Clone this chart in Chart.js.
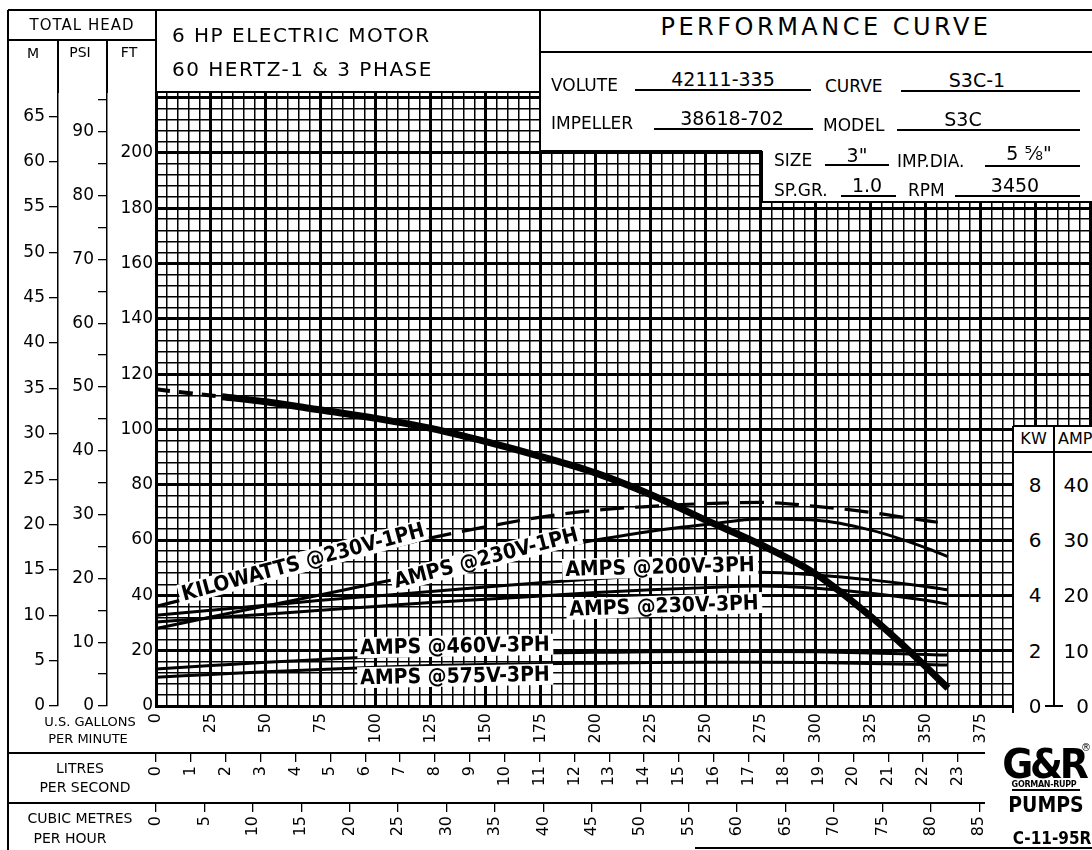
<!DOCTYPE html>
<html><head><meta charset="utf-8">
<script src="https://cdn.jsdelivr.net/npm/chart.js@4.4.1/dist/chart.umd.min.js"></script>
<style>
html,body{margin:0;padding:0;background:#fff;}
#wrap{position:relative;width:1092px;height:850px;overflow:hidden;background:#fff;font-family:"DejaVu Sans",sans-serif;color:#000;}
#c{position:absolute;left:0;top:0;}
.t{position:absolute;white-space:nowrap;line-height:1;}
.ln{position:absolute;background:#000;}
.box{position:absolute;background:#fff;}
.lbl{position:absolute;white-space:nowrap;font-family:"DejaVu Sans Condensed","DejaVu Sans",sans-serif;font-weight:bold;font-size:21px;line-height:21px;background:#fff;padding:0 3px;}
</style></head><body><div id="wrap"><canvas id="c" width="1092" height="850"></canvas></div>
<script>
// ---------------- data ----------------
const gpm       = [0, 25, 50, 75, 100, 125, 150, 175, 200, 225, 250, 275, 300, 325, 350, 360];
const headGpm   = [0, 30, 50, 75, 100, 125, 150, 175, 200, 225, 250, 275, 300, 325, 350, 360];
const headFt    = [114.5, 111.8, 110, 107, 104, 100.4, 95.6, 90.2, 84.2, 76.4, 67.2, 58.3, 47.7, 32.3, 14.2, 6.4];
const kw230_1   = [3.6, 4.1, 4.6, 5.1, 5.62, 6.08, 6.48, 6.83, 7.08, 7.22, 7.32, 7.36, 7.22, 7.0, 6.7, 6.6];
const amps230_1 = [14, 16.1, 18.1, 20.1, 22.2, 24.2, 26.2, 28.2, 30, 31.6, 32.8, 33.8, 33.6, 31.8, 28.6, 27];
const amps200_3 = [16.4, 17.3, 18.2, 19.1, 19.9, 20.7, 21.5, 22.3, 23, 23.6, 24, 24.2, 23.7, 22.8, 21.6, 21];
const amps230_3 = [15.2, 15.9, 16.6, 17.3, 18, 18.7, 19.3, 19.9, 20.5, 21, 21.4, 21.7, 21.3, 20.4, 19.1, 18.4];
const amps460_3 = [6.7, 7.3, 7.9, 8.4, 8.9, 9.2, 9.4, 9.6, 9.7, 9.8, 9.85, 9.85, 9.8, 9.6, 9.3, 9.2];
const amps575_3 = [5.2, 5.7, 6.2, 6.6, 7.0, 7.3, 7.5, 7.65, 7.75, 7.85, 7.9, 7.9, 7.85, 7.7, 7.5, 7.4];

const kwTicks   = [8, 6, 4, 2, 0];
const ampTicks  = [40, 30, 20, 10, 0];

// curve captions (text, anchor GPM, anchor value, scale, angle)
const capText  = ["KILOWATTS @230V-1PH", "AMPS @230V-1PH", "AMPS @200V-3PH", "AMPS @230V-3PH", "AMPS @460V-3PH", "AMPS @575V-3PH"];
const capGpm   = [67, 150, 229, 231, 136, 136];
const capValue = [5.2, 26.7, 25.2, 18.0, 10.8, 5.45];
const capScale = ["yK", "yA", "yA", "yA", "yA", "yA"];
const capAngle = [-15, -14.5, -1.5, -2, -1, -1];

// unit conversions
const GPM_MAX = 425.5, FT_MAX = 222;
const FT_PER_M = 3.2808, FT_PER_PSI = 2.3067, LPS_PER_GPM = 0.0630902, M3H_PER_GPM = 0.2271247;
const KW_PER_FT = 0.1, A_PER_FT = 0.5;

// ---------------- helpers for static frame ----------------
const W = document.getElementById('wrap');
function el(cls, css, text){const d=document.createElement('div');d.className=cls;Object.assign(d.style,css);if(text!=null)d.textContent=text;W.appendChild(d);return d;}
function box(x,y,w,h){el('box',{left:x+'px',top:y+'px',width:w+'px',height:h+'px'});}
function hl(x1,x2,y,w){w=w||1.5;el('ln',{left:x1+'px',top:(y-w/2)+'px',width:(x2-x1)+'px',height:w+'px'});}
function vl(x,y1,y2,w){w=w||1.5;el('ln',{left:(x-w/2)+'px',top:y1+'px',width:w+'px',height:(y2-y1)+'px'});}
function tc(s,x,y,size,extra){return el('t',Object.assign({left:x+'px',top:y+'px',fontSize:size+'px',transform:'translate(-50%,-50%)'},extra||{}),s);}
function tl(s,x,y,size,extra){return el('t',Object.assign({left:x+'px',top:y+'px',fontSize:size+'px',transform:'translateY(-50%)'},extra||{}),s);}
function tr(s,x,y,size,extra){return el('t',Object.assign({right:(1092-x)+'px',top:y+'px',fontSize:size+'px',transform:'translateY(-50%)'},extra||{}),s);}

// ---------------- chart ----------------
Chart.defaults.font.family = "'DejaVu Sans', sans-serif";
Chart.defaults.color = '#000';
const pts = (xs, ys) => xs.map((x, i) => ({x: x, y: ys[i]}));
const isMult = (v, m) => Math.abs(v / m - Math.round(v / m)) < 1e-6;
const noPad = s => { s.paddingLeft = 0; s.paddingRight = 0; s.paddingTop = 0; s.paddingBottom = 0; };
const thin = {color:'#000', lineWidth:1.3, drawOnChartArea:false, drawTicks:true, tickLength:9};

const chart = new Chart(document.getElementById('c'), {
  type: 'line',
  data: { datasets: [
    {label:'Total head (ft)', data: pts(headGpm, headFt), yAxisID:'y', borderColor:'#000', borderWidth:7,
     pointRadius:0, cubicInterpolationMode:'monotone',
     segment:{ borderDash: c => c.p1.parsed.x <= 30 ? [14, 9] : undefined,
               borderWidth: c => c.p1.parsed.x <= 30 ? 4 : undefined }},
    {label:'Kilowatts @230V-1PH', data: pts(gpm, kw230_1), yAxisID:'yK', borderColor:'#000', borderWidth:3.2, borderDash:[24, 11], pointRadius:0, cubicInterpolationMode:'monotone'},
    {label:'Amps @230V-1PH', data: pts(gpm, amps230_1), yAxisID:'yA', borderColor:'#000', borderWidth:3, pointRadius:0, cubicInterpolationMode:'monotone'},
    {label:'Amps @200V-3PH', data: pts(gpm, amps200_3), yAxisID:'yA', borderColor:'#000', borderWidth:3, pointRadius:0, cubicInterpolationMode:'monotone'},
    {label:'Amps @230V-3PH', data: pts(gpm, amps230_3), yAxisID:'yA', borderColor:'#000', borderWidth:3, pointRadius:0, cubicInterpolationMode:'monotone'},
    {label:'Amps @460V-3PH', data: pts(gpm, amps460_3), yAxisID:'yA', borderColor:'#000', borderWidth:3, pointRadius:0, cubicInterpolationMode:'monotone'},
    {label:'Amps @575V-3PH', data: pts(gpm, amps575_3), yAxisID:'yA', borderColor:'#000', borderWidth:3, pointRadius:0, cubicInterpolationMode:'monotone'}
  ]},
  options: {
    responsive:false, animation:false, devicePixelRatio:1,
    layout:{padding:{left:8, top:92, right:0, bottom:2}},
    plugins:{legend:{display:false}, tooltip:{enabled:false}},
    scales:{
      x:{type:'linear', position:'bottom', weight:0, min:0, max:GPM_MAX,
         afterFit: s => { noPad(s); s.height = 47; },
         grid:{color:'#000', drawTicks:false, lineWidth: c => (c.tick && isMult(c.tick.value, 25)) ? 3 : 1.5},
         border:{display:true, color:'#000', width:3},
         ticks:{stepSize:5, autoSkip:false, includeBounds:false, minRotation:90, maxRotation:90, padding:7,
                font:{size:16}, callback: v => (isMult(v, 25) && v <= 375) ? String(v) : ''}},
      xL:{type:'linear', position:'bottom', weight:1, min:0, max:GPM_MAX*LPS_PER_GPM,
         afterFit: s => { noPad(s); s.height = 50; },
         afterBuildTicks: s => { s.ticks = s.ticks.filter(t => t.value <= 23.0001); },
         grid: thin, border:{display:false},
         ticks:{stepSize:1, autoSkip:false, includeBounds:false, minRotation:90, maxRotation:90, padding:4, font:{size:16}}},
      xM:{type:'linear', position:'bottom', weight:2, min:0, max:GPM_MAX*M3H_PER_GPM,
         afterFit: s => { noPad(s); s.height = 45; },
         afterBuildTicks: s => { s.ticks = s.ticks.filter(t => t.value <= 85.0001); },
         grid: thin, border:{display:false},
         ticks:{stepSize:5, autoSkip:false, includeBounds:false, minRotation:90, maxRotation:90, padding:4, font:{size:16}}},
      y:{type:'linear', position:'left', weight:0, min:0, max:FT_MAX,
         afterFit: s => { noPad(s); s.width = 49; },
         grid:{color:'#000', drawTicks:false, lineWidth: c => (c.tick && isMult(c.tick.value, 20)) ? 3 : 1.5},
         border:{display:true, color:'#000', width:3},
         ticks:{stepSize:4, autoSkip:false, includeBounds:false, padding:3, font:{size:17},
                callback: v => (isMult(v, 20) && v <= 200) ? String(v) : ''}},
      yP:{type:'linear', position:'left', weight:1, min:0, max:FT_MAX/FT_PER_PSI,
         afterFit: s => { noPad(s); s.width = 49; },
         grid: thin, border:{display:true, color:'#000', width:1.5},
         ticks:{stepSize:5, autoSkip:false, includeBounds:false, padding:4, font:{size:17},
                callback: v => isMult(v, 10) ? String(v) : ''}},
      yM:{type:'linear', position:'left', weight:2, min:0, max:FT_MAX/FT_PER_M,
         afterFit: s => { noPad(s); s.width = 50; },
         grid: thin, border:{display:true, color:'#000', width:1.5},
         ticks:{stepSize:5, autoSkip:false, includeBounds:false, padding:4, font:{size:17}}},
      yK:{type:'linear', position:'right', display:false, min:0, max:FT_MAX*KW_PER_FT},
      yA:{type:'linear', position:'right', display:false, min:0, max:FT_MAX*A_PER_FT}
    }
  }
});

// ---------------- overlays: header / info box / kw box ----------------
box(540, 10, 552, 141);
box(762, 140, 330, 62);
box(1013, 426, 79, 287);

hl(8, 1092, 10); vl(8, 10, 850);
hl(8, 156, 40); vl(58, 40, 93); vl(107, 40, 93); vl(156, 10, 93);
hl(156, 540, 92, 2);
vl(540, 10, 151); hl(540, 1092, 52);
hl(540, 762, 151); vl(762, 151, 202); hl(762, 1092, 202);
hl(8, 985, 753); hl(8, 985, 803); hl(695, 1092, 848);

tc('TOTAL HEAD', 82, 25, 15, {letterSpacing:'1px'});
tc('M', 33, 53, 14); tc('PSI', 80, 52, 14); tc('FT', 129, 52, 14);
tl('6 HP ELECTRIC MOTOR', 172, 35, 20, {letterSpacing:'1.5px'});
tl('60 HERTZ-1 & 3 PHASE', 172, 69, 20, {letterSpacing:'1.5px'});
tc('PERFORMANCE CURVE', 826, 27, 24, {letterSpacing:'3.5px'});

tl('VOLUTE', 551, 85, 17); tc('42111-335', 723, 79, 19); hl(635, 811, 90, 1.3);
tl('CURVE', 825, 86, 17); tc('S3C-1', 977, 80, 19); hl(901, 1080, 91, 1.3);
tl('IMPELLER', 551, 123, 17); tc('38618-702', 732, 118, 19); hl(654, 813, 129, 1.3);
tl('MODEL', 823, 125, 17); tc('S3C', 963, 119, 19); hl(897, 1080, 130, 1.3);
tl('SIZE', 774, 160, 17); tc('3"', 857, 155, 19); hl(825, 889, 165, 1.3);
tl('IMP.DIA.', 897, 161, 17); tc('5 \u215D"', 1029, 153, 19); hl(985, 1080, 166, 1.3);
tl('SP.GR.', 774, 190, 17); tc('1.0', 867, 185, 19); hl(841, 896, 196, 1.3);
tl('RPM', 908, 190, 17); tc('3450', 1015, 185, 19); hl(955, 1080, 196, 1.3);

// bottom row titles
tc('U.S. GALLONS', 90, 721, 13); tc('PER MINUTE', 88, 738, 13);
tc('LITRES', 80, 768, 14); tc('PER SECOND', 85, 787, 14);
tc('CUBIC METRES', 80, 818, 14); tc('PER HOUR', 70, 838, 14);

// KW / AMPS box
vl(1013, 426, 713); hl(1013, 1092, 426); hl(1013, 1092, 452); vl(1054, 426, 706); hl(1045, 1063, 706);
tc('KW', 1034, 439, 16, {letterSpacing:'1px'}); tl('AMPS', 1058, 439, 16);
const yK = chart.scales.yK, yA = chart.scales.yA, sx = chart.scales.x;
kwTicks.forEach(v => tc(String(v), 1035, yK.getPixelForValue(v), 20));
ampTicks.forEach(v => tr(String(v), 1089, yA.getPixelForValue(v), 20));

// curve captions
capText.forEach((s, i) => {
  const px = sx.getPixelForValue(capGpm[i]);
  const py = chart.scales[capScale[i]].getPixelForValue(capValue[i]);
  el('lbl', {left:px+'px', top:py+'px', transform:'translate(-50%,-50%) rotate(' + capAngle[i] + 'deg)'}, s);
});

// logo
tc('G&R', 1044, 764, 40, {fontFamily:'"DejaVu Sans Condensed","DejaVu Sans",sans-serif', fontWeight:'900', letterSpacing:'-3px', transform:'translate(-50%,-50%) scaleX(1.05)'});
tc('\u00AE', 1086, 748, 10);
tc('GORMAN-RUPP', 1044, 785, 8, {fontWeight:'bold', letterSpacing:'-0.3px'});
hl(1012, 1080, 790, 1.5);
tc('PUMPS', 1046, 805, 21, {fontWeight:'bold', fontFamily:'"DejaVu Sans Condensed","DejaVu Sans",sans-serif'});
tc('C-11-95R', 1052, 838, 17, {fontWeight:'bold', fontFamily:'"DejaVu Sans Condensed","DejaVu Sans",sans-serif'});
</script>
</body></html>
